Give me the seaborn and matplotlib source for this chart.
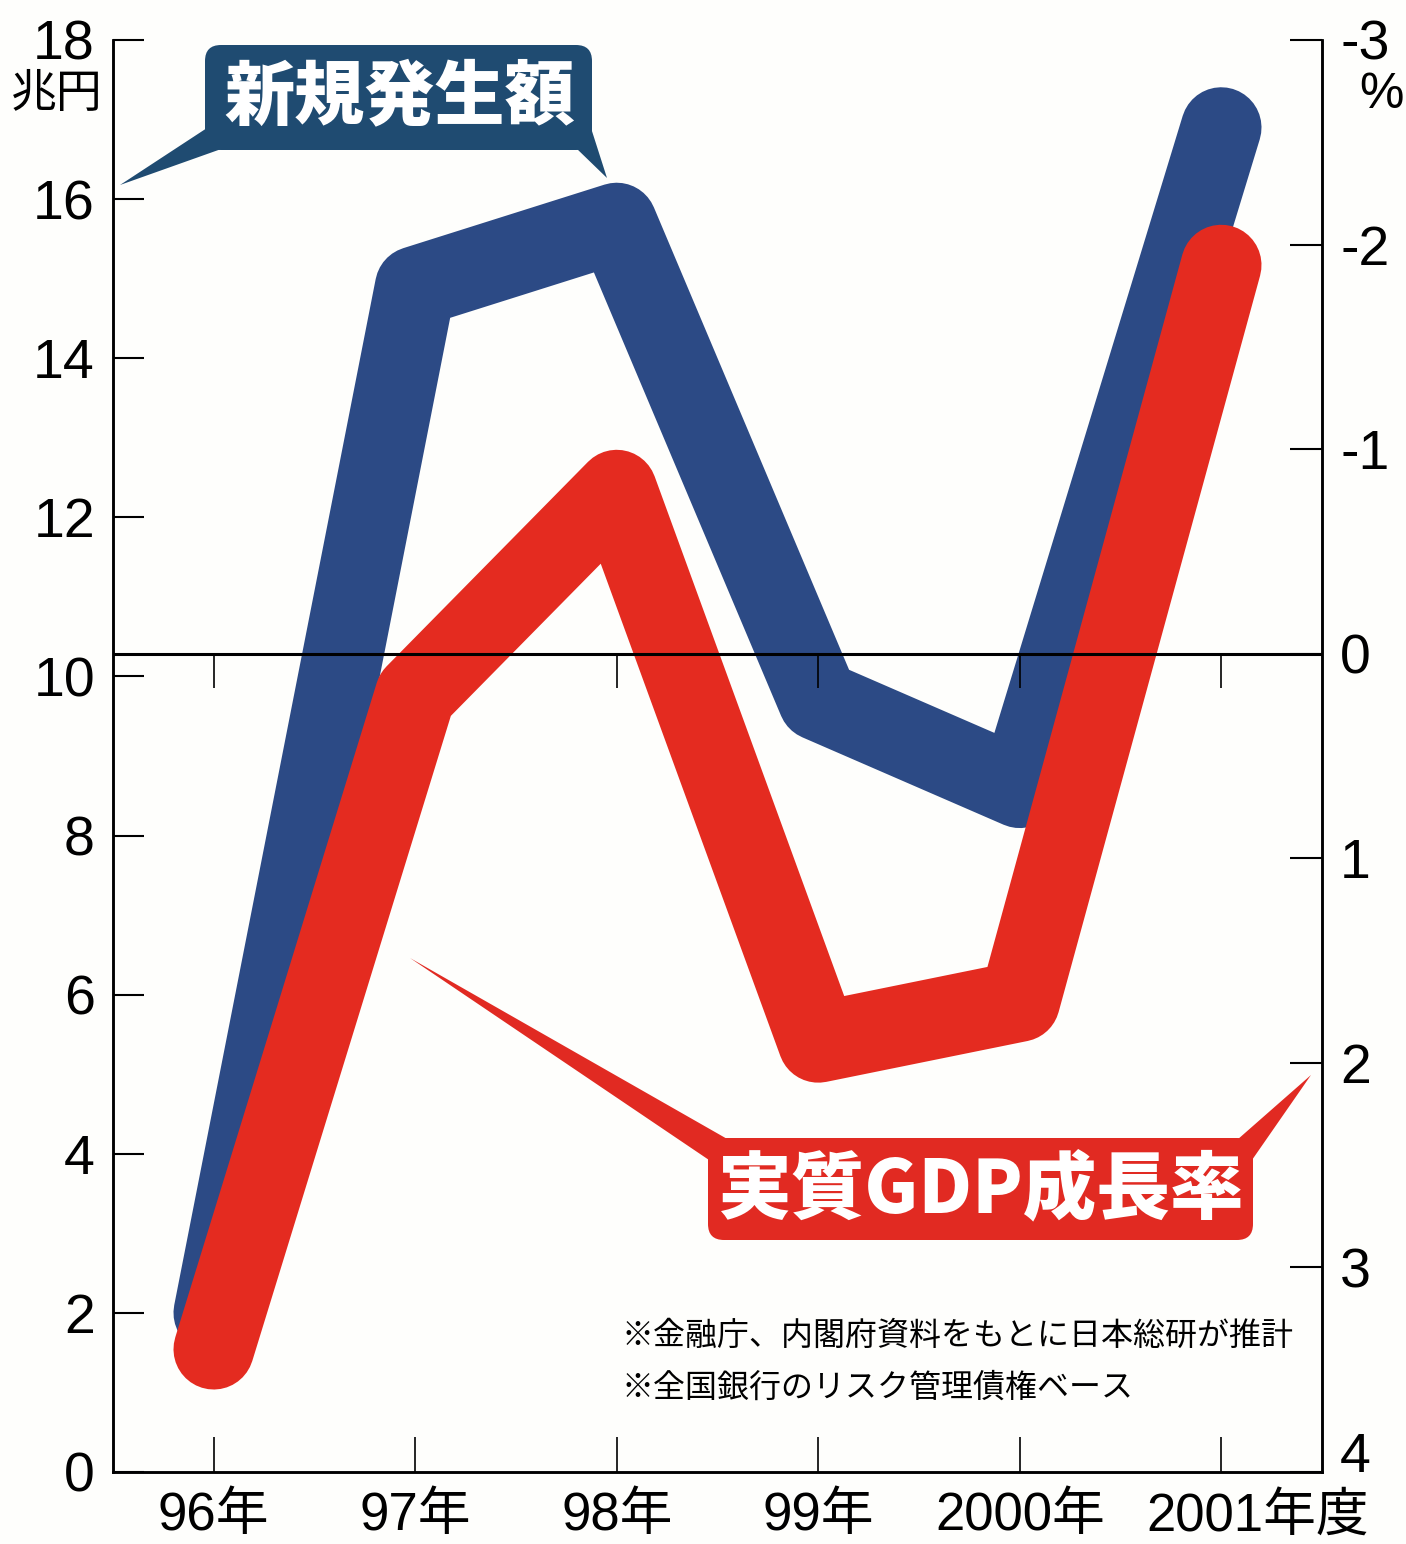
import matplotlib
matplotlib.use("Agg")
import matplotlib.pyplot as plt
import matplotlib.transforms as mtransforms
from matplotlib.patches import FancyBboxPatch, Polygon
import seaborn as sns
import pandas as pd

# 年度ラベル
years = ["96年", "97年", "98年", "99年", "2000年", "2001年度"]
# 不良債権の新規発生額（兆円、左軸）
new_bad_loans = [2.0, 14.9, 15.7, 9.7, 8.6, 16.9]
# 実質GDP成長率（%、右軸・上下反転）
real_gdp_growth = [3.4, 0.2, -0.8, 1.9, 1.7, -1.9]

left_ticks = [0, 2, 4, 6, 8, 10, 12, 14, 16, 18]
right_ticks = [-3, -2, -1, 0, 1, 2, 3, 4]

notes = ["※金融庁、内閣府資料をもとに日本総研が推計",
         "※全国銀行のリスク管理債権ベース"]

W, H = 1406, 1544
BG = "#fefefc"
BLUE = "#2c4a85"
BLUE_BOX = "#1f4b71"
RED = "#e42b20"
RED_BOX = "#e12a22"
JP = ["Noto Sans CJK JP", "DejaVu Sans"]

sns.set_theme(style="white")
plt.rcParams["font.family"] = ["Liberation Sans", "Noto Sans CJK JP", "DejaVu Sans"]
plt.rcParams["axes.unicode_minus"] = False
plt.rcParams["text.color"] = "black"
plt.rcParams["xtick.color"] = "black"
plt.rcParams["ytick.color"] = "black"

df = pd.DataFrame({
    "pos": range(len(years)),
    "year": years,
    "bad_loans": new_bad_loans,
    "gdp": real_gdp_growth,
})

fig = plt.figure(figsize=(W / 100, H / 100), dpi=100, facecolor=BG)
ax = fig.add_axes([113 / W, 1 - 1472 / H, (1322 - 113) / W, (1472 - 40) / H])
ax.set_facecolor(BG)
ax2 = ax.twinx()
ax2.patch.set_visible(False)

# 太い線（青が下、赤が上）
line_kw = dict(linewidth=58, solid_capstyle="round", solid_joinstyle="round",
               legend=False)
sns.lineplot(data=df, x="pos", y="bad_loans", ax=ax, color=BLUE, **line_kw)
sns.lineplot(data=df, x="pos", y="gdp", ax=ax2, color=RED, zorder=3, **line_kw)

# 0%の基準線と目盛り
ax2.vlines(df["pos"], 0, 0.17, color="black", linewidth=1.2, zorder=2.5)
ax2.axhline(0, color="black", linewidth=2.2, zorder=4)

ax.set_xlim(-0.5, 5.5)
ax.set_ylim(0, 18)
ax2.set_ylim(4, -3)

ax.set_xticks(df["pos"], labels=years)
ax.set_yticks(left_ticks, labels=[str(t) for t in left_ticks])
ax2.set_yticks(right_ticks, labels=[str(t) for t in right_ticks])
ax.set_xlabel("")
ax.set_ylabel("")
ax2.set_ylabel("")

ax.tick_params(axis="y", direction="in", length=22, width=1.5, pad=13,
               labelsize=40, left=True)
ax.tick_params(axis="x", direction="in", length=25, width=1.2, pad=14,
               labelsize=38, bottom=True)
ax2.tick_params(axis="y", direction="in", length=23, width=1.5, pad=13,
                labelsize=40, right=True)

for a in (ax, ax2):
    a.spines["top"].set_visible(False)
    for s in ("left", "right", "bottom"):
        a.spines[s].set_color("black")
        a.spines[s].set_linewidth(1.8)


def shift(label, dx_px, dy_px):
    label.set_transform(label.get_transform() + mtransforms.ScaledTranslation(
        dx_px / 100, dy_px / 100, fig.dpi_scale_trans))


# 「2001年度」は「2001年」を目盛りに合わせ、「度」を右にはみ出させる
shift(ax.get_xticklabels()[-1], 36, 0)
# 右軸の「4」は目盛りより少し上
shift(ax2.get_yticklabels()[-1], 0, 20)

# 画像ピクセル座標（左上原点）
px = mtransforms.Affine2D().scale(0.01, -0.01).translate(0, H / 100) + fig.dpi_scale_trans

fig.text(57, 94, "兆円", transform=px, ha="center", va="center",
         fontsize=33, family=JP)
fig.text(1381, 95, "%", transform=px, ha="center", va="center", fontsize=36)

# 吹き出し：新規発生額
fig.add_artist(Polygon([(207, 128), (120, 185), (224, 148)], closed=True,
                       transform=px, color=BLUE_BOX, lw=0))
fig.add_artist(Polygon([(576, 148), (607, 178), (591, 128)], closed=True,
                       transform=px, color=BLUE_BOX, lw=0))
fig.add_artist(FancyBboxPatch((205, 45), 387, 105,
                              boxstyle="round,pad=0,rounding_size=16",
                              transform=px, color=BLUE_BOX, lw=0))
fig.text(400, 98, "新規発生額", transform=px, ha="center", va="center",
         fontsize=50.5, fontweight="black", color="white", family=JP)

# 吹き出し：実質GDP成長率
fig.add_artist(Polygon([(729, 1140), (410, 958), (709, 1160)], closed=True,
                       transform=px, color=RED_BOX, lw=0))
fig.add_artist(Polygon([(1237, 1140), (1311, 1075), (1252, 1160)], closed=True,
                       transform=px, color=RED_BOX, lw=0))
fig.add_artist(FancyBboxPatch((708, 1138), 545, 102,
                              boxstyle="round,pad=0,rounding_size=16",
                              transform=px, color=RED_BOX, lw=0))
fig.text(980, 1190, "実質GDP成長率", transform=px, ha="center", va="center",
         fontsize=53, fontweight="black", color="white", family=JP)

# 注記
for i, note in enumerate(notes):
    fig.text(622, 1336 + 52 * i, note, transform=px, ha="left", va="center",
             fontsize=23, family=JP)

fig.savefig("out.png", dpi=100, facecolor=BG)
